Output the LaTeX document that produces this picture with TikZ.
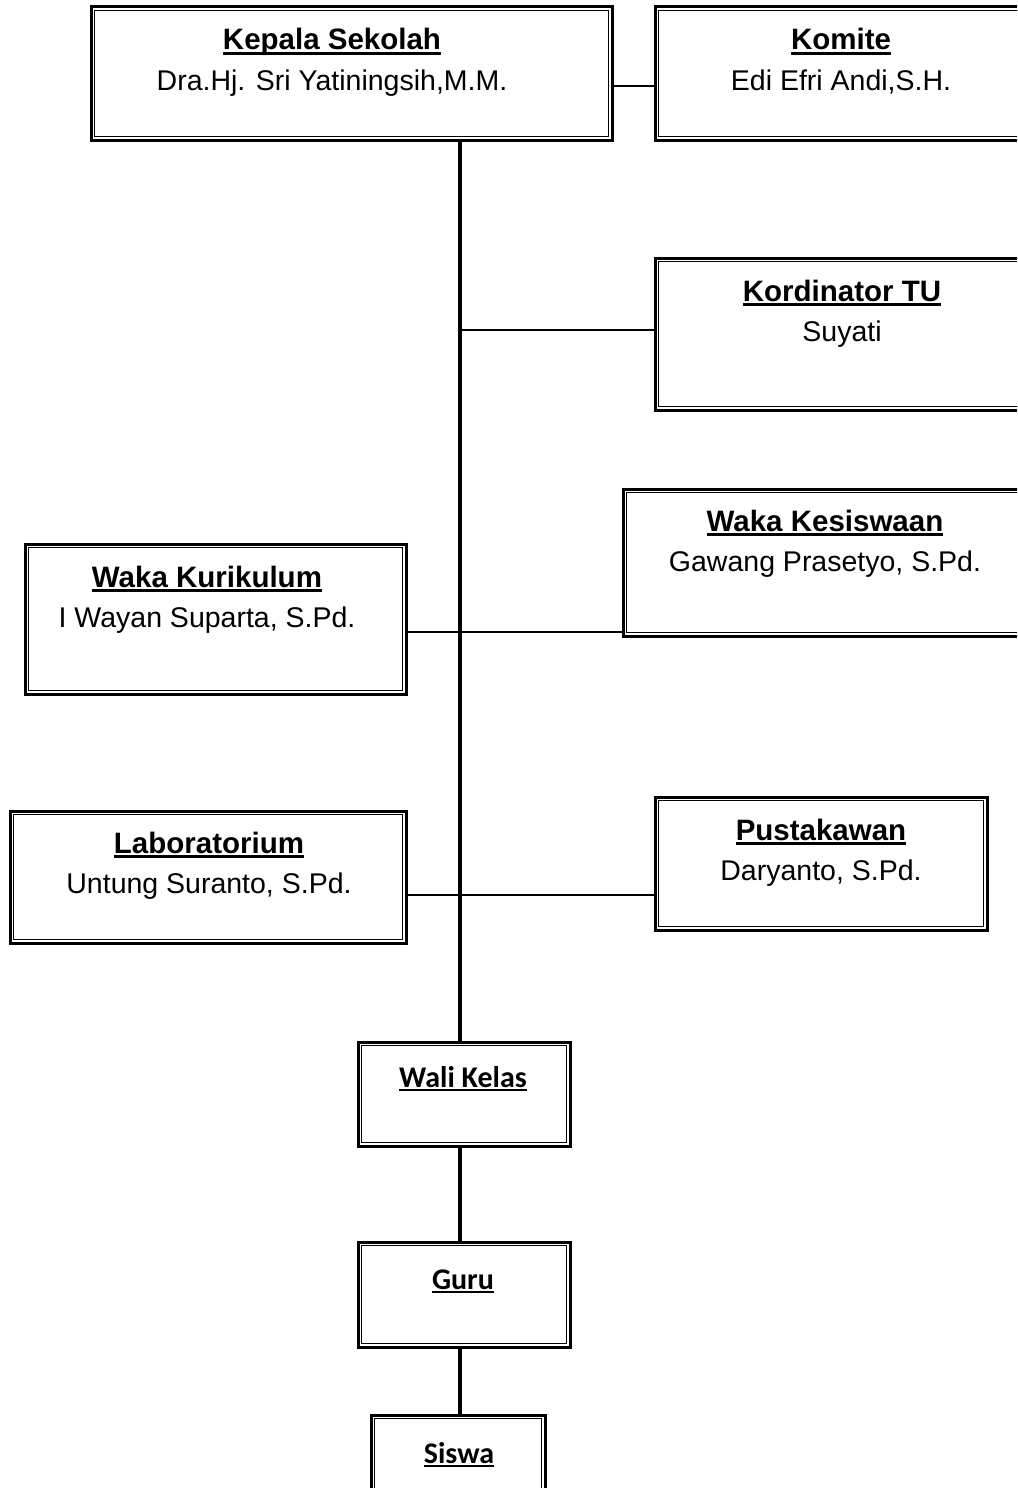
\documentclass[tikz,border=0pt]{standalone}
\usepackage{fontspec}
\setmainfont{Liberation Sans}
\newfontfamily\calfont{Carlito}
\newsavebox\undlbox
\newcommand\undl[2][3pt]{\sbox\undlbox{#2}\rlap{\rule[-\dimexpr 2pt+#1\relax]{\wd\undlbox}{#1}}\usebox\undlbox}
\newcommand\ttl[1]{\undl{\bfseries\fontsize{29.5}{40}\selectfont #1}}
\usetikzlibrary{calc}

\begin{document}
\begin{tikzpicture}[x=1pt,y=-1pt,
    dbox/.style={draw,line width=3pt,rectangle,inner sep=0pt,
      append after command={\pgfextra{\draw[line width=1.5pt]
        ([shift={(5pt,5pt)}]\tikzlastnode.south west) rectangle
        ([shift={(-5pt,-5pt)}]\tikzlastnode.north east);}}},
    txt/.style={align=center,inner sep=0pt,anchor=base,font=\fontsize{28.5}{40}\selectfont},
    ctxt/.style={inner sep=0pt,anchor=base,font=\calfont\bfseries\fontsize{30}{36}\selectfont},
    thinl/.style={line width=2pt},
    thickl/.style={line width=4.5pt}]
    \useasboundingbox (0,0) rectangle (1017,1488);
    \clip (0,0) rectangle (1017,1488);
    \node[dbox,minimum width=521pt,minimum height=133pt] (kepsek) at (351.5,73.5) {};
    \node[dbox,minimum width=370pt,minimum height=133pt] (komite) at (840,73.5) {};
    \node[dbox,minimum width=370pt,minimum height=152pt] (kordtu) at (840,334) {};
    \node[dbox,minimum width=402pt,minimum height=147pt] (kesiswaan) at (824,562.5) {};
    \node[dbox,minimum width=381pt,minimum height=150pt] (kurikulum) at (215.5,619) {};
    \node[dbox,minimum width=396pt,minimum height=132pt] (lab) at (208,877) {};
    \node[dbox,minimum width=332pt,minimum height=133pt] (pustaka) at (821,863.5) {};
    \node[dbox,minimum width=212pt,minimum height=104pt] (walikelas) at (464,1094) {};
    \node[dbox,minimum width=212pt,minimum height=105pt] (guru) at (464,1294.5) {};
    \node[dbox,minimum width=174pt,minimum height=95pt] (siswa) at (458,1462.5) {};
    \node[txt] (kepsek-t) at (332,90) {\ttl{Kepala Sekolah}\\Dra.Hj. Sri Yatiningsih,M.M.};
    \node[txt] (komite-t) at (841,90) {\ttl{Komite}\\Edi Efri Andi,S.H.};
    \node[txt] (kordtu-t) at (842,341) {\ttl{Kordinator TU}\\Suyati};
    \node[txt] (kesiswaan-t) at (825,571) {\ttl{Waka Kesiswaan}\\Gawang Prasetyo, S.Pd.};
    \node[txt] (kurikulum-t) at (207,627) {\ttl{Waka Kurikulum}\\I Wayan Suparta, S.Pd.};
    \node[txt] (lab-t) at (209,893) {\ttl{Laboratorium}\\Untung Suranto, S.Pd.};
    \node[txt] (pustaka-t) at (821,880) {\ttl{Pustakawan}\\Daryanto, S.Pd.};
    \node[ctxt] (walikelas-t) at (463,1087) {\undl[2pt]{Wali Kelas}};
    \node[ctxt] (guru-t) at (463,1289) {\undl[2pt]{Guru}};
    \node[ctxt] (siswa-t) at (459,1463) {\undl[2pt]{Siswa}};
    \coordinate (spine) at (460,0);
    \draw[thickl] (kepsek.south -| spine) -- (walikelas.north -| spine);
    \draw[thinl] ([yshift=-12.5pt]kepsek.east) -- ([yshift=-12.5pt]komite.west);
    \coordinate (tu) at ([yshift=4pt]kordtu.west);
    \draw[thinl] (tu -| spine) -- (tu);
    \coordinate (kk) at ([yshift=-13pt]kurikulum.east);
    \draw[thinl] (kk) -- (kk -| kesiswaan.west);
    \coordinate (lp) at ([yshift=-18pt]lab.east);
    \draw[thinl] (lp) -- (lp -| pustaka.west);
    \draw[thickl] (walikelas.south -| spine) -- (guru.north -| spine);
    \draw[thickl] (guru.south -| spine) -- (siswa.north -| spine);
\end{tikzpicture}
\end{document}
